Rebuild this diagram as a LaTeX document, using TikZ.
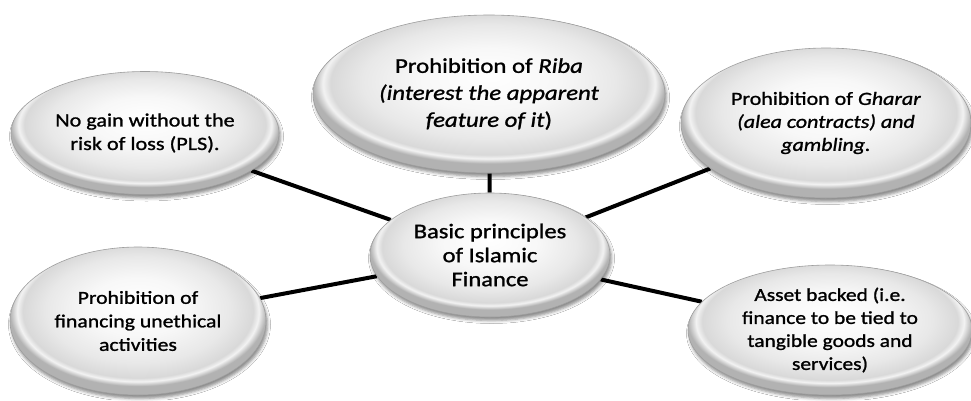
\documentclass[tikz,border=0pt]{standalone}
\usepackage{fontspec}
\setmainfont{Carlito}[FakeStretch=1.18,FakeBold=1.2]
\usetikzlibrary{shapes.geometric,shadows.blur,backgrounds}
\pgfdeclareradialshading{ballshade}{\pgfpoint{0bp}{6bp}}{color(0bp)=(white); color(10bp)=(white!97!black); color(18bp)=(white!91!black); color(22.5bp)=(white!85!black); color(23.6bp)=(white!95!black); color(25bp)=(white!70!black); color(50bp)=(white!70!black)}
\tikzset{
  bubble/.style={ellipse, inner sep=0pt, shading=ballshade, draw=black!38, line width=0.6pt,
    blur shadow={shadow xshift=1.5pt, shadow yshift=-3.5pt, shadow blur radius=3pt, shadow opacity=45},
    align=center, text=black},
  link/.style={line width=4pt, draw=black}
}
\begin{document}
\begin{tikzpicture}[x=1pt,y=-1pt]
\useasboundingbox (0,0) rectangle (971,400);
\node[bubble, minimum width=352pt, minimum height=158pt, font=\fontsize{21}{27}\selectfont] (riba) at (489,94)
  {Prohibition of \textit{Riba}\\\textit{(interest the apparent}\\\textit{feature of it})};
\node[bubble, minimum width=268pt, minimum height=123pt, font=\fontsize{18.8}{23.5}\selectfont] (pls) at (145,133)
  {No gain without the\\risk of loss (PLS).};
\node[bubble, minimum width=290pt, minimum height=150pt, font=\fontsize{18.6}{23}\selectfont] (gharar) at (826,123)
  {Prohibition of \textit{Gharar}\\\textit{(alea contracts) and}\\\textit{gambling.}};
\node[bubble, minimum width=240pt, minimum height=124pt, font=\fontsize{20.8}{24}\selectfont] (center) at (490,255)
  {Basic principles\\of Islamic\\Finance};
\node[bubble, minimum width=256pt, minimum height=148pt, font=\fontsize{18.4}{23.5}\selectfont] (unethical) at (138,321)
  {Prohibition of\\financing unethical\\activities};
\node[bubble, minimum width=284pt, minimum height=130pt, font=\fontsize{18.2}{23}\selectfont] (asset) at (830,330)
  {Asset backed (i.e.\\finance to be tied to\\tangible goods and\\services)};
\begin{scope}[on background layer]
  \fill[white] (0,0) rectangle (971,400);
  \draw[link] (riba) -- (center);
  \draw[link] (pls) -- (center);
  \draw[link] (gharar) -- (center);
  \draw[link] (unethical) -- (center);
  \draw[link] (asset) -- (center);
\end{scope}
\end{tikzpicture}
\end{document}
